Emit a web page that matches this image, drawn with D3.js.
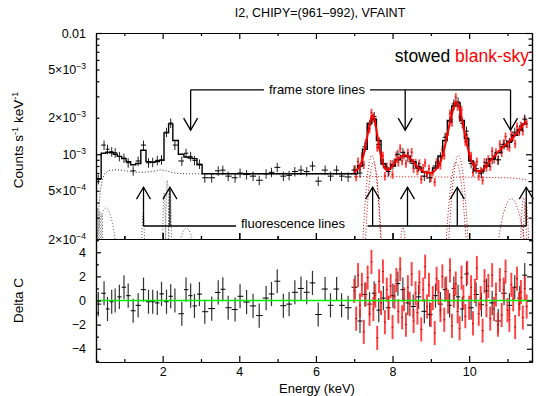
<!DOCTYPE html>
<html>
<head>
<meta charset="utf-8">
<script src="https://cdn.jsdelivr.net/npm/d3@7"></script>
<style>
  body { margin: 0; background: #fff; }
  svg { display: block; font-family: "Liberation Sans", Arial, Helvetica, sans-serif; }
  .axis path, .axis line { stroke: #000; stroke-width: 1.2; }
</style>
</head>
<body>
<svg id="chart" width="538" height="396"></svg>
<script>
// all rates below are in units of 1e-4 counts s^-1 keV^-1
const RATE_UNIT = 1e-4;

// stowed (black) spectrum: bin centre, rate, folded model, delta C
const stowedE = [0.32,0.47,0.56,0.67,0.76,0.87,0.99,1.10,1.23,1.36,
  1.50,1.63,1.74,1.86,1.97,2.10,2.21,2.32,2.50,2.61,
  2.73,2.83,2.96,3.10,3.28,3.45,3.57,3.71,3.89,4.02,
  4.19,4.36,4.52,4.70,4.84,4.99,5.15,5.30,5.45,5.61,
  5.76,5.91,6.06,6.24,6.38,6.54,6.67,6.84,7.02,7.15,
  7.28,7.40,7.52,7.64,7.76,7.89,8.01,8.14,8.27,8.40,
  8.54,8.68,8.83,8.97,9.12,9.25,9.37,9.49,9.60,9.71,
  9.82,9.93,10.05,10.18,10.32,10.45,10.60,10.76,10.91,11.05,
  11.19,11.32,11.45];
const stowedRate = [6.2,11.9,11.0,10.5,10.3,9.6,9.3,8.5,7.3,8.8,
  11.9,8.5,8.6,8.9,9.0,15.2,18.1,11.9,8.8,10.2,
  9.6,8.9,8.3,6.4,6.4,7.3,7.4,6.6,6.4,7.0,
  6.8,6.6,6.1,6.9,7.1,7.8,6.6,6.7,7.2,7.4,
  7.2,8.0,6.0,7.4,6.6,7.4,6.6,6.5,7.4,7.0,
  11.5,17.5,20.5,12.0,8.4,7.2,8.2,10.0,10.3,9.5,
  8.4,7.9,6.6,6.4,8.0,9.5,13.8,18.5,26.0,27.0,
  18.0,15.5,8.4,7.6,7.0,8.5,9.1,9.0,12.0,12.5,
  15.2,16.0,19.5];
const stowedModel = [6.3,10.2,10.4,10.3,10.0,9.6,9.2,8.7,8.2,8.4,
  10.8,8.7,8.6,8.7,8.9,15.0,17.8,13.0,10.0,9.5,
  9.3,9.2,8.2,6.9,6.9,6.9,6.9,6.9,6.9,6.9,
  6.9,6.9,6.9,6.9,6.9,6.9,6.9,6.9,6.9,6.9,
  6.9,6.9,6.9,6.9,6.9,6.9,6.9,6.9,6.9,8.0,
  11.0,18.0,19.5,13.0,8.3,7.5,8.0,9.0,9.7,9.6,
  8.7,7.7,7.1,7.0,7.7,9.7,13.0,19.0,25.0,26.5,
  19.0,13.5,8.8,7.3,7.2,8.0,9.2,10.3,11.6,12.8,
  14.3,15.8,17.8];
const stowedResid = [-0.3,0.6,-0.7,-0.1,0.0,0.3,1.1,0.4,-0.85,-0.4,
  0.9,-0.1,-0.1,-0.2,0.55,-0.1,0.35,0.0,-1.1,0.9,
  0.4,-0.45,0.53,-0.93,-0.67,0.67,0.93,-0.6,-0.75,0.35,
  -0.13,-0.45,-1.25,0.2,0.54,1.6,-0.43,-0.3,0.68,1.0,
  0.68,1.46,-1.16,0.95,-0.4,0.95,-0.4,-0.6,1.1,-1.7,
  0.5,-0.3,0.6,-0.8,0.2,-0.6,0.4,1.4,0.9,-0.2,
  -0.5,0.3,-0.9,-1.15,0.4,-0.3,0.9,-0.4,1.0,0.3,
  -0.7,2.2,-0.6,0.5,-0.35,0.8,-0.2,-1.7,0.6,-0.4,
  1.1,0.2,2.1];
const stowedRelErr = 0.09;

// blank-sky (red) spectrum, 0.05 keV bins from 7.0 keV
const skyStartE = 7.0;
const skyBinW = 0.05;
const skyRate = [7.5,6.5,8.7,7.8,9.6,8.2,12.4,16.4,16.2,22.0,
  20.0,18.5,11.4,12.8,9.4,9.7,6.6,7.9,7.2,8.3,
  6.8,8.6,9.8,8.6,11.2,8.8,9.9,8.4,10.3,9.1,
  10.4,7.6,8.5,7.3,8.4,6.2,7.7,8.5,6.8,7.6,
  6.4,7.2,5.9,8.6,8.4,8.1,10.9,9.8,13.9,15.4,
  21.7,18.3,25.2,29.6,24.8,20.1,23.2,17.4,12.7,13.7,
  9.6,9.7,7.1,8.0,8.7,6.6,7.3,6.1,8.6,7.8,
  9.1,7.9,10.6,9.1,10.4,8.9,12.1,10.3,12.3,14.0,
  11.7,11.4,14.5,13.9,12.2,16.9,15.4,17.2,15.5,19.3,
  17.9];
const skyModel = [7.1,7.3,7.6,8.0,8.8,10.0,12.0,14.5,17.5,20.5,
  21.0,18.0,14.5,11.5,9.5,8.3,7.6,7.4,7.5,7.7,
  8.0,8.4,8.8,9.2,9.5,9.7,9.8,9.8,9.6,9.3,
  9.0,8.6,8.2,7.9,7.6,7.4,7.2,7.1,7.0,7.0,
  7.0,7.1,7.3,7.6,8.0,8.6,9.6,11.0,13.0,15.5,
  18.5,21.5,24.5,27.0,26.5,24.0,20.5,17.0,14.0,11.8,
  10.0,9.0,8.2,7.6,7.3,7.2,7.2,7.4,7.7,8.0,
  8.4,8.8,9.2,9.6,10.0,10.4,10.8,11.2,11.6,12.0,
  12.4,12.8,13.3,13.8,14.4,15.0,15.7,16.4,17.2,18.0,
  18.5];
const skyResid = [0.8,-1.5,2.1,-0.4,1.3,-2.6,0.5,1.9,-1.1,3.2,
  -0.7,0.4,-3.1,1.6,-0.2,2.4,-1.8,0.9,-0.6,1.2,
  -2.2,0.3,1.7,-0.9,2.6,-1.4,0.1,-2.0,1.1,-0.3,
  2.2,-1.7,0.6,-1.0,1.5,-2.4,0.9,2.8,-0.5,1.3,
  -1.2,0.2,-2.7,1.8,0.7,-0.8,2.0,-1.6,1.0,-0.1,
  2.5,-2.1,0.4,1.4,-0.9,-2.3,1.9,0.3,-1.3,2.3,
  -0.6,1.1,-1.9,0.8,2.7,-1.1,0.2,-2.5,1.6,-0.4,
  1.2,-1.5,2.1,-0.7,0.5,-2.0,1.7,-1.2,0.9,2.4,
  -0.8,-1.6,1.3,0.1,-2.2,1.8,-0.3,0.7,-1.4,1.0,
  -0.5];
const skyRelErr = 0.08;

// model components (dotted): continuum knots [E, rate] and gaussian lines
const stowedCont = [[0.26,1.0],[0.30,2.2],[0.34,3.8],[0.38,5.2],[0.43,6.3],[0.50,7.0],
  [0.60,7.35],[0.80,7.45],[1.00,7.35],[1.20,7.15],[1.45,7.1],[1.75,7.2],[1.95,7.45],
  [2.10,7.3],[2.30,7.0],[2.60,6.9],[4.0,6.88],[7.0,6.85]];
const skyCont = [[7.0,6.55],[9.0,6.5],[10.5,6.45],[11.0,6.4],[11.3,6.3],[11.5,6.15]];
const stowedLineE = [0.30, 0.36, 0.42, 0.52, 1.49, 2.04, 2.12, 2.19, 2.62];
const stowedLineSigma = [0.015, 0.015, 0.015, 0.22, 0.035, 0.03, 0.03, 0.03, 0.24];
const stowedLineNorm = [3.6, 3.4, 3.2, 3.6, 3.3, 4.8, 6.1, 5.4, 2.45];
const skyLineE = [7.46, 7.50, 8.27, 9.66, 9.72, 11.10, 11.42, 11.48];
const skyLineSigma = [0.13, 0.12, 0.08, 0.15, 0.14, 0.27, 0.06, 0.06];
const skyLineNorm = [9.8, 8.6, 2.5, 8.6, 9.8, 4.3, 4.4, 4.0];

// annotations
const frameStoreE = [2.73, 8.33, 11.08];
const fluorE = [1.50, 2.19, 7.48, 8.39, 9.69, 11.49];
const frameBarLevel = 3.4e-3, frameTipLevel = 1.58e-3;
const fluorBarLevel = 2.56e-4, fluorTipLevel = 5.35e-4;

// tick labels
const rateTickVals = [1e-2, 5e-3, 2e-3, 1e-3, 5e-4, 2e-4];
const rateTickMant = ["0.01", "5×10", "2×10", "10", "5×10", "2×10"];
const rateTickExp = ["", "−3", "−3", "−3", "−4", "−4"];
const residTickVals = [4, 2, 0, -2, -4];
const residTickLabels = ["4", "2", "0", "−2", "−4"];
const energyTicks = [2, 4, 6, 8, 10];
const energyMinor = [1, 3, 5, 7, 9, 11];

// ---- layout
const left = 96, right = 532, top1 = 33, bot1 = 239, bot2 = 362;
const svg = d3.select("#chart");

const x = d3.scaleLinear().domain([0.26, 11.64]).range([left, right]);
const y = d3.scaleLog().domain([2e-4, 1e-2]).range([bot1, top1]);
const yr = d3.scaleLinear().domain([-5.1, 5.1]).range([bot2, bot1]);

const defs = svg.append("defs");
defs.append("clipPath").attr("id", "clipTop").append("rect")
  .attr("x", left).attr("y", top1).attr("width", right - left).attr("height", bot1 - top1);
defs.append("clipPath").attr("id", "clipBot").append("rect")
  .attr("x", left).attr("y", bot1).attr("width", right - left).attr("height", bot2 - bot1);

const gTop = svg.append("g").attr("clip-path", "url(#clipTop)");
const gBot = svg.append("g").attr("clip-path", "url(#clipBot)");

// bin edges from neighbouring centres
function binEdges(es) {
  return es.map((e, i) => {
    const lo = i === 0 ? e - (es[1] - e) / 2 : (es[i - 1] + e) / 2;
    const hi = i === es.length - 1 ? e + (e - es[i - 1]) / 2 : (e + es[i + 1]) / 2;
    return [lo, hi];
  });
}

const stEdges = binEdges(stowedE);
const stowed = stowedE.map((e, i) => ({
  e, lo: stEdges[i][0], hi: stEdges[i][1],
  rate: stowedRate[i] * RATE_UNIT, model: stowedModel[i] * RATE_UNIT, resid: stowedResid[i]
}));
const sky = skyRate.map((r, i) => {
  const e = skyStartE + i * skyBinW;
  return { e, lo: e - skyBinW / 2, hi: e + skyBinW / 2,
    rate: r * RATE_UNIT, model: skyModel[i] * RATE_UNIT, resid: skyResid[i] };
});

// ---- model components (dotted)
const lineGen = d3.line().x(d => x(d[0])).y(d => y(d[1]));

function gaussPts(e0, sig, norm) {
  return d3.range(e0 - 4 * sig, e0 + 4 * sig + 1e-9, sig / 25)
    .map(e => [e, norm * RATE_UNIT * Math.exp(-((e - e0) ** 2) / (2 * sig * sig))]);
}

gTop.append("path")
  .attr("d", lineGen(stowedCont.map(d => [d[0], d[1] * RATE_UNIT])))
  .attr("fill", "none").attr("stroke", "#333").attr("stroke-width", 1)
  .attr("stroke-dasharray", "1,2");
stowedLineE.forEach((e, i) => {
  gTop.append("path")
    .attr("d", lineGen(gaussPts(e, stowedLineSigma[i], stowedLineNorm[i])))
    .attr("fill", "none").attr("stroke", "#555").attr("stroke-width", 1)
    .attr("stroke-dasharray", "1,2");
});
gTop.append("path")
  .attr("d", lineGen(skyCont.map(d => [d[0], d[1] * RATE_UNIT])))
  .attr("fill", "none").attr("stroke", "#e00").attr("stroke-width", 1)
  .attr("stroke-dasharray", "1,2");
skyLineE.forEach((e, i) => {
  gTop.append("path")
    .attr("d", lineGen(gaussPts(e, skyLineSigma[i], skyLineNorm[i])))
    .attr("fill", "none").attr("stroke", "#c00").attr("stroke-width", 1)
    .attr("stroke-dasharray", "1,2");
});

// ---- red data (top)
gTop.selectAll(".skyErr").data(sky).enter().append("line")
  .attr("x1", d => x(d.e)).attr("x2", d => x(d.e))
  .attr("y1", d => y(d.rate * (1 - skyRelErr))).attr("y2", d => y(d.rate * (1 + skyRelErr)))
  .attr("stroke", "#ff3030").attr("stroke-opacity", 0.85).attr("stroke-width", 1.9);
gTop.selectAll(".skyBin").data(sky).enter().append("line")
  .attr("x1", d => x(d.lo)).attr("x2", d => x(d.hi))
  .attr("y1", d => y(d.rate)).attr("y2", d => y(d.rate))
  .attr("stroke", "#e00000").attr("stroke-width", 1.2);

// ---- black data (top)
gTop.selectAll(".stErr").data(stowed).enter().append("line")
  .attr("x1", d => x(d.e)).attr("x2", d => x(d.e))
  .attr("y1", d => y(d.rate * (1 - stowedRelErr))).attr("y2", d => y(d.rate * (1 + stowedRelErr)))
  .attr("stroke", "#222").attr("stroke-width", 1);
gTop.selectAll(".stBin").data(stowed).enter().append("line")
  .attr("x1", d => x(d.lo)).attr("x2", d => x(d.hi))
  .attr("y1", d => y(d.rate)).attr("y2", d => y(d.rate))
  .attr("stroke", "#000").attr("stroke-width", 1);

// black folded model as a histogram
const stepPts = stowed.map(d => [d.lo, d.model]).concat([[stowed[stowed.length - 1].hi, stowed[stowed.length - 1].model]]);
gTop.append("path")
  .attr("d", d3.line().x(d => x(d[0])).y(d => y(d[1])).curve(d3.curveStepAfter)(stepPts))
  .attr("fill", "none").attr("stroke", "#000").attr("stroke-width", 1.4);

// red folded model
gTop.append("path")
  .attr("d", lineGen(sky.map(d => [d.e, d.model])))
  .attr("fill", "none").attr("stroke", "#ff0000").attr("stroke-width", 2);

// ---- residuals
gBot.selectAll(".stRes").data(stowed).enter().append("line")
  .attr("x1", d => x(d.e)).attr("x2", d => x(d.e))
  .attr("y1", d => yr(d.resid - 1)).attr("y2", d => yr(d.resid + 1))
  .attr("stroke", "#333").attr("stroke-width", 1.2);
gBot.selectAll(".stResBin").data(stowed).enter().append("line")
  .attr("x1", d => x(d.lo)).attr("x2", d => x(d.hi))
  .attr("y1", d => yr(d.resid)).attr("y2", d => yr(d.resid))
  .attr("stroke", "#000").attr("stroke-width", 1);
gBot.selectAll(".skyRes").data(sky).enter().append("line")
  .attr("x1", d => x(d.e)).attr("x2", d => x(d.e))
  .attr("y1", d => yr(d.resid - 1)).attr("y2", d => yr(d.resid + 1))
  .attr("stroke", "#ff2020").attr("stroke-opacity", 0.85).attr("stroke-width", 1.9);
gBot.selectAll(".skyResBin").data(sky).enter().append("line")
  .attr("x1", d => x(d.lo)).attr("x2", d => x(d.hi))
  .attr("y1", d => yr(d.resid)).attr("y2", d => yr(d.resid))
  .attr("stroke", "#c00000").attr("stroke-width", 1);
gBot.append("line")
  .attr("x1", left).attr("x2", right).attr("y1", yr(0)).attr("y2", yr(0))
  .attr("stroke", "#00ee00").attr("stroke-width", 1.6);

// ---- axes (ticks inside, on all four sides)
function addAxis(axis, tx, ty) {
  svg.append("g").attr("class", "axis").attr("transform", `translate(${tx},${ty})`).call(axis);
}
const rateMinor = [3e-4,4e-4,5e-4,6e-4,7e-4,8e-4,9e-4,2e-3,3e-3,4e-3,5e-3,6e-3,7e-3,8e-3,9e-3];
const residMinor = [-5, -3, -1, 1, 3, 5];

[[top1, d3.axisTop], [bot1, d3.axisBottom]].forEach(([yy, ax]) => {
  addAxis(ax(x).tickValues(energyTicks).tickSize(-6).tickSizeOuter(0).tickFormat(""), 0, yy);
  addAxis(ax(x).tickValues(energyMinor).tickSize(-3).tickSizeOuter(0).tickFormat(""), 0, yy);
});
addAxis(d3.axisTop(x).tickValues(energyTicks).tickSize(6).tickSizeOuter(0).tickFormat(""), 0, bot1);
addAxis(d3.axisTop(x).tickValues(energyMinor).tickSize(3).tickSizeOuter(0).tickFormat(""), 0, bot1);
addAxis(d3.axisBottom(x).tickValues(energyMinor).tickSize(-3).tickSizeOuter(0).tickFormat(""), 0, bot2);
const xLab = d3.axisBottom(x).tickValues(energyTicks).tickSize(-6).tickSizeOuter(0)
  .tickPadding(5).tickFormat(d3.format("d"));
svg.append("g").attr("class", "axis").attr("transform", `translate(0,${bot2})`).call(xLab)
  .selectAll("text").attr("font-size", 12.5).attr("font-family", "Liberation Sans, Arial, sans-serif").attr("fill", "#000");

[[left, d3.axisLeft], [right, d3.axisRight]].forEach(([xx, ax]) => {
  addAxis(ax(y).tickValues([1e-3, 1e-2]).tickSize(-6).tickSizeOuter(0).tickFormat(""), xx, 0);
  addAxis(ax(y).tickValues(rateMinor).tickSize(-3.5).tickSizeOuter(0).tickFormat(""), xx, 0);
  addAxis(ax(yr).tickValues(residTickVals).tickSize(-5).tickSizeOuter(0).tickFormat(""), xx, 0);
  addAxis(ax(yr).tickValues(residMinor).tickSize(-3).tickSizeOuter(0).tickFormat(""), xx, 0);
});

// y tick labels with superscripts
rateTickVals.forEach((v, i) => {
  const t = svg.append("text").attr("x", 86).attr("y", y(v) + 4.5)
    .attr("text-anchor", "end").attr("font-size", 12.5).attr("fill", "#000");
  t.append("tspan").text(rateTickMant[i]);
  if (rateTickExp[i]) t.append("tspan").attr("dy", -5).attr("font-size", 8.5).text(rateTickExp[i]);
});
residTickVals.forEach((v, i) => {
  svg.append("text").attr("x", 86).attr("y", yr(v) + 4.5)
    .attr("text-anchor", "end").attr("font-size", 12.5).attr("fill", "#000")
    .text(residTickLabels[i]);
});

// axis titles
const yt = svg.append("text").attr("transform", `translate(23,${(top1 + bot1) / 2 + 4}) rotate(-90)`)
  .attr("text-anchor", "middle").attr("font-size", 13.5).attr("fill", "#000");
yt.append("tspan").text("Counts s");
yt.append("tspan").attr("dy", -5).attr("font-size", 9).text("-1");
yt.append("tspan").attr("dy", 5).text(" keV");
yt.append("tspan").attr("dy", -5).attr("font-size", 9).text("-1");

svg.append("text").attr("transform", `translate(23,${yr(0)}) rotate(-90)`)
  .attr("text-anchor", "middle").attr("font-size", 13.5).attr("fill", "#000").text("Delta C");
svg.append("text").attr("x", 317).attr("y", 393).attr("text-anchor", "middle")
  .attr("font-size", 13).attr("fill", "#000").text("Energy (keV)");

svg.append("text").attr("x", 320).attr("y", 17).attr("text-anchor", "middle")
  .attr("font-size", 12.5).attr("fill", "#000").text("I2, CHIPY=(961–992), VFAINT");

// legend
const leg = svg.append("text").attr("x", 529).attr("y", 62).attr("text-anchor", "end")
  .attr("font-size", 17.5);
leg.append("tspan").attr("fill", "#000").text("stowed ");
leg.append("tspan").attr("fill", "#ff0000").text("blank-sky");

// ---- annotations
const ann = svg.append("g").attr("stroke", "#000").attr("stroke-width", 1.3).attr("fill", "none");

function arrow(xt, yBase, yTip) {
  const dir = yTip > yBase ? 1 : -1;
  ann.append("line").attr("x1", xt).attr("x2", xt).attr("y1", yBase).attr("y2", yTip);
  ann.append("path").attr("d", `M${xt - 7},${yTip - dir * 12}L${xt},${yTip}L${xt + 7},${yTip - dir * 12}`);
}

const fsText = svg.append("text").attr("x", 317).attr("y", y(frameBarLevel) + 4.5)
  .attr("text-anchor", "middle").attr("font-size", 13).attr("fill", "#000").text("frame store lines");
const fsW = fsText.node().getComputedTextLength();
const fsY = y(frameBarLevel);
ann.append("line").attr("x1", x(frameStoreE[0])).attr("x2", 317 - fsW / 2 - 5).attr("y1", fsY).attr("y2", fsY);
ann.append("line").attr("x1", 317 + fsW / 2 + 5).attr("x2", x(frameStoreE[2])).attr("y1", fsY).attr("y2", fsY);
frameStoreE.forEach(e => arrow(x(e), fsY, y(frameTipLevel)));

const flText = svg.append("text").attr("x", 293).attr("y", y(fluorBarLevel) + 2)
  .attr("text-anchor", "middle").attr("font-size", 13).attr("fill", "#000").text("fluorescence lines");
const flW = flText.node().getComputedTextLength();
const flY = y(fluorBarLevel);
ann.append("line").attr("x1", x(fluorE[0])).attr("x2", 293 - flW / 2 - 5).attr("y1", flY).attr("y2", flY);
ann.append("line").attr("x1", x(fluorE[2]) - 5).attr("x2", x(fluorE[5])).attr("y1", flY).attr("y2", flY);
fluorE.forEach(e => arrow(x(e), flY, y(fluorTipLevel)));
</script>
</body>
</html>
